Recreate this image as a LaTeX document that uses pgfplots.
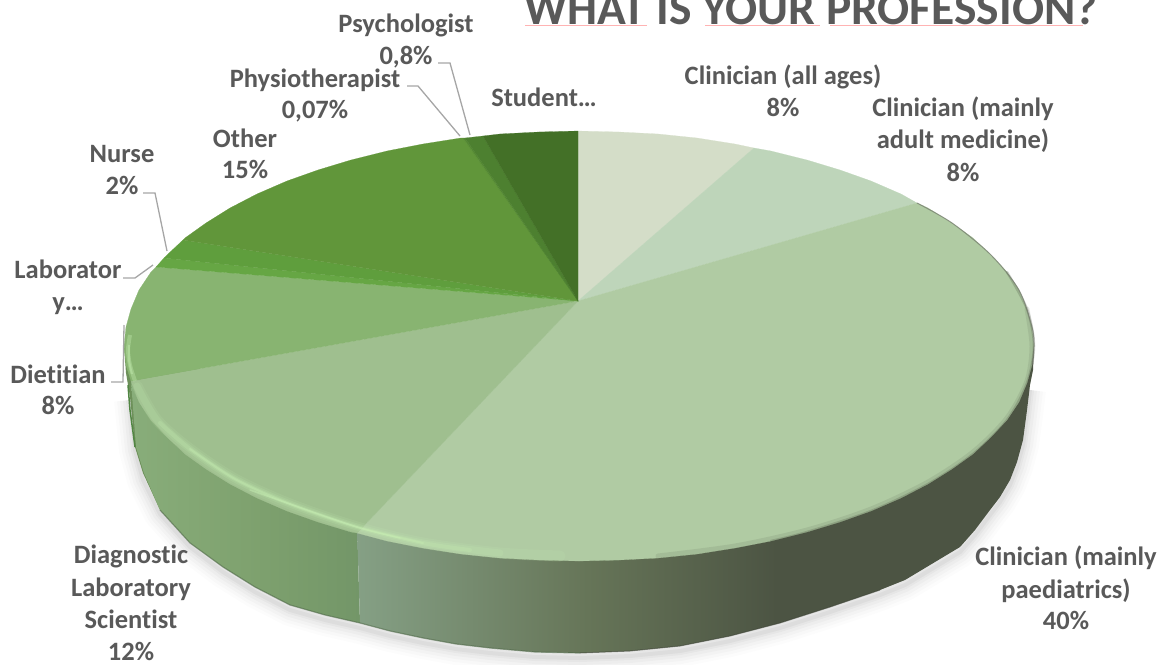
\documentclass[border=0pt]{standalone}
\usepackage{pgfplots}
\pgfplotsset{compat=1.18}
\usepackage{fontspec}
\setmainfont[Ligatures=NoCommon]{Carlito}
\definecolor{txt}{HTML}{595959}
\definecolor{leader}{HTML}{A6A6A6}
\definecolor{pink}{HTML}{FFB3B3}
\definecolor{cA}{HTML}{D4DDC8}
\definecolor{cB}{HTML}{BED5BA}
\definecolor{cC}{HTML}{B0CBA3}
\definecolor{cD}{HTML}{9FBF8F}
\definecolor{cE}{HTML}{88B471}
\definecolor{cF}{HTML}{66A644}
\definecolor{cG}{HTML}{5F9E3D}
\definecolor{cH}{HTML}{61963A}
\definecolor{cI}{HTML}{558A33}
\definecolor{cJ}{HTML}{4D8030}
\definecolor{cK}{HTML}{437027}
\definecolor{p1}{HTML}{85A085}
\definecolor{p2}{HTML}{667558}
\definecolor{p3}{HTML}{4C5443}
\definecolor{d1}{HTML}{88AD7A}
\definecolor{d2}{HTML}{7FA26F}
\definecolor{d3}{HTML}{739668}
\definecolor{rim}{HTML}{C8F0B4}
\pgfdeclarehorizontalshading{paedside}{100bp}{color(0bp)=(p1); color(25bp)=(p1); color(42bp)=(p2); color(56bp)=(p3); color(100bp)=(p3)}
\pgfdeclarehorizontalshading{diagside}{100bp}{color(0bp)=(d1); color(25bp)=(d1); color(50bp)=(d2); color(75bp)=(d3); color(100bp)=(d3)}
\newcommand{\lab}[3]{\node[anchor=base,yshift=-1pt,text=txt,font=\fontsize{#3}{#3}\selectfont\bfseries] at (axis cs:#1) {#2};}
\newcommand{\shadowplot}[2]{\addplot[draw=black,opacity=#2,line width=#1pt,line join=round] coordinates {(130,400)(135,450)(143,480)(160,514)(190,547)(223,572)(255,592)(290,610)(325,620)(360,628)(390,636)(423,643)(456,649)(490,653)(535,657)(580,658)(630,656)(680,651)(730,641)(780,628)(830,612)(880,595)(905,585)(930,570)(960,552)(975,535)(990,515)(1000,502)(1010,485)(1017,467)(1023,445)(1027,415)(1030,390)};}
\begin{document}
\begin{tikzpicture}
\begin{axis}[scale only axis,width=1166pt,height=664pt,xmin=0,xmax=1166,ymin=0,ymax=664,y dir=reverse,hide axis,clip=false]
% shadow
\shadowplot{32}{0.012}
\shadowplot{26}{0.015}
\shadowplot{20}{0.018}
\shadowplot{14}{0.022}
\shadowplot{8}{0.03}
\shadowplot{4}{0.04}
% side
\addplot[fill=cE!80!black,draw=none] coordinates {(124,346)(126,373)(130,397)(135,447)(143,473)(160,510)(200,500)(200,346)} -- cycle;
\addplot[shading=diagside,draw=none] coordinates {(131,381)(136,447)(144,473)(160,510)(190,543)(223,567)(255,587)(290,605)(325,615)(360,623)(357,525)(287,505)(230,480)(185,450)(151,415)} -- cycle;
\addplot[shading=paedside,draw=none] coordinates {(357,525)(360,623)(390,631)(423,638)(456,644)(490,648)(535,652)(580,653)(630,651)(680,646)(730,636)(780,623)(830,607)(880,590)(905,580)(930,565)(960,547)(975,530)(990,510)(1000,497)(1010,480)(1017,462)(1023,440)(1027,410)(1030,385)(1033,370)(1034,346)(1000,346)(928,480)(807,525)(579,555)} -- cycle;
\addplot[draw=d3!70!black,line width=1.2pt,opacity=.6] coordinates {(160,510)(190,543)(223,567)(255,587)(290,605)(325,615)(360,623)(390,631)(423,638)(456,644)(490,648)(535,652)(580,653)};
\addplot[draw=p3!80!black,line width=1pt,opacity=.6] coordinates {(580,653)(630,651)(680,646)(730,636)(780,623)(830,607)(880,590)};
\addplot[draw=cE!85!green!70!black,line width=1.5pt] coordinates {(128,385)(130,410)(135,447)};
% top face
\addplot[fill=cA,draw=cA,line width=.2pt] coordinates {(578,301)(578,131)(619,132)(658,134)(697,138)(735,144)(754,148)} -- cycle;
\addplot[fill=cB,draw=cB,line width=.2pt] coordinates {(578,301)(754,148)(771,151)(807,160)(840,170)(871,181)(901,194)(917,203)} -- cycle;
\addplot[fill=cC,draw=cC,line width=.2pt] coordinates {(578,301)(917,203)(928,208)(952,223)(973,238)(991,255)(1007,272)(1019,290)(1027,309)(1032,327)(1034,346)(1032,365)(1027,383)(1019,402)(1007,420)(991,437)(973,454)(952,469)(928,484)(901,498)(871,511)(840,522)(807,532)(771,541)(735,548)(697,554)(658,558)(619,560)(579,561)(539,560)(500,558)(461,554)(423,548)(387,541)(357,533)} -- cycle;
\addplot[fill=cD,draw=cD,line width=.2pt] coordinates {(578,301)(357,533)(351,532)(318,522)(287,511)(257,498)(230,484)(206,469)(185,454)(167,437)(151,420)(139,402)(131,381)} -- cycle;
\addplot[fill=cE,draw=cE,line width=.2pt] coordinates {(578,301)(131,381)(126,365)(124,346)(126,327)(131,309)(139,290)(151,272)(156,267)} -- cycle;
\addplot[fill=cF,draw=cF,line width=.2pt] coordinates {(578,301)(156,267)(164,258)} -- cycle;
\addplot[fill=cG,draw=cG,line width=.2pt] coordinates {(578,301)(164,258)(167,255)(183,240)} -- cycle;
\addplot[fill=cH,draw=cH,line width=.2pt] coordinates {(578,301)(183,240)(185,238)(206,223)(230,208)(257,194)(287,181)(318,170)(351,160)(387,151)(423,144)(461,138)(463,138)} -- cycle;
\addplot[fill=cI,draw=cI,line width=.2pt] coordinates {(578,301)(463,138)(465,138)} -- cycle;
\addplot[fill=cJ,draw=cJ,line width=.2pt] coordinates {(578,301)(465,138)(483,136)} -- cycle;
\addplot[fill=cK,draw=cK,line width=.2pt] coordinates {(578,301)(483,136)(500,134)(539,132)(578,131)} -- cycle;
% bevel: left and front, light
\addplot[draw=rim,line width=4pt,opacity=.35,smooth] coordinates {(130,335)(128,350)(130,365)(135,381)};
\addplot[draw=rim,line width=2pt,opacity=.4,smooth] coordinates {(129,345)(129,360)(132,374)};
\addplot[draw=rim,line width=11pt,opacity=.12,smooth,line cap=round] coordinates {(137,386)(157,420)(190,449)(235,479)(290,504)(357,527)(423,543)(500,553)(560,556)};
\addplot[draw=rim,line width=7pt,opacity=.16,smooth,line cap=round] coordinates {(137,386)(157,420)(190,449)(235,479)(290,504)(357,527)(423,543)(500,553)};
\addplot[draw=rim,line width=4pt,opacity=.22,smooth,line cap=round] coordinates {(160,423)(190,449)(235,479)(290,504)(357,527)(423,543)(470,550)};
\addplot[draw=rim,line width=2pt,opacity=.35,smooth,line cap=round] coordinates {(190,449)(235,479)(290,504)(357,527)(423,543)};
\addplot[draw=rim,line width=1.5pt,opacity=.4,smooth,line cap=round] coordinates {(250,490)(290,504)(357,527)(400,538)};
% bevel: right, dark
\addplot[draw=p3,line width=5pt,opacity=.12,smooth,line cap=round] coordinates {(658,556)(735,546)(807,530)(871,509)(928,482)(973,452)(1007,418)(1027,381)(1032,346)(1027,309)};
\addplot[draw=p3,line width=2.5pt,opacity=.25,smooth,line cap=round] coordinates {(771,541)(807,532)(871,511)(928,484)(973,454)(1007,420)(1027,383)(1034,346)(1027,309)(1007,272)};
\addplot[draw=p3!80!white,line width=1pt,opacity=.7,smooth] coordinates {(917,203)(952,223)(991,255)(1019,290)(1032,327)(1034,346)(1032,365)};
% leaders
\addplot[draw=leader,line width=1.3pt] coordinates {(438,63)(450,63)(470,135)};
\addplot[draw=leader,line width=1.3pt] coordinates {(407,86)(418,86)(460,136)};
\addplot[draw=leader,line width=1.3pt] coordinates {(143,193)(155,193)(167,251)};
\addplot[draw=leader,line width=1.3pt] coordinates {(123,278)(135,278)(153,265)};
\addplot[draw=leader,line width=1.3pt] coordinates {(111,382)(123,382)(124,325)};
% title
\addplot[draw=pink,line width=1pt] coordinates {(525,25)(647,25)};
\addplot[draw=pink,line width=1pt] coordinates {(705,25)(820,25)};
\addplot[draw=pink,line width=1pt] coordinates {(830,25)(1083,25)};
\lab{811,23}{WHAT IS YOUR PROFESSION?}{47.5}
% labels
\lab{406,31}{Psychologist}{26.5}
\lab{406,63}{0,8\%}{26.5}
\lab{315,86}{Physiotherapist}{26.5}
\lab{315,117}{0,07\%}{26.5}
\lab{544,105}{Student…}{26.5}
\lab{783,83}{Clinician (all ages)}{26.5}
\lab{783,115}{8\%}{26.5}
\lab{963,115}{Clinician (mainly}{26.5}
\lab{963,147}{adult medicine)}{26.5}
\lab{963,180}{8\%}{26.5}
\lab{245,146}{Other}{26.5}
\lab{245,177}{15\%}{26.5}
\lab{122,161}{Nurse}{26.5}
\lab{122,193}{2\%}{26.5}
\lab{68,277}{Laborator}{26.5}
\lab{68,309}{y…}{26.5}
\lab{58,382}{Dietitian}{26.5}
\lab{58,413}{8\%}{26.5}
\lab{131,562}{Diagnostic}{26.5}
\lab{131,595}{Laboratory}{26.5}
\lab{131,627}{Scientist}{26.5}
\lab{131,659}{12\%}{26.5}
\lab{1066,564}{Clinician (mainly}{26.5}
\lab{1066,597}{paediatrics)}{26.5}
\lab{1066,628}{40\%}{26.5}
\end{axis}
\pgfresetboundingbox
\path[use as bounding box] (0,0) rectangle (1166pt,664pt);
\end{tikzpicture}
\end{document}
